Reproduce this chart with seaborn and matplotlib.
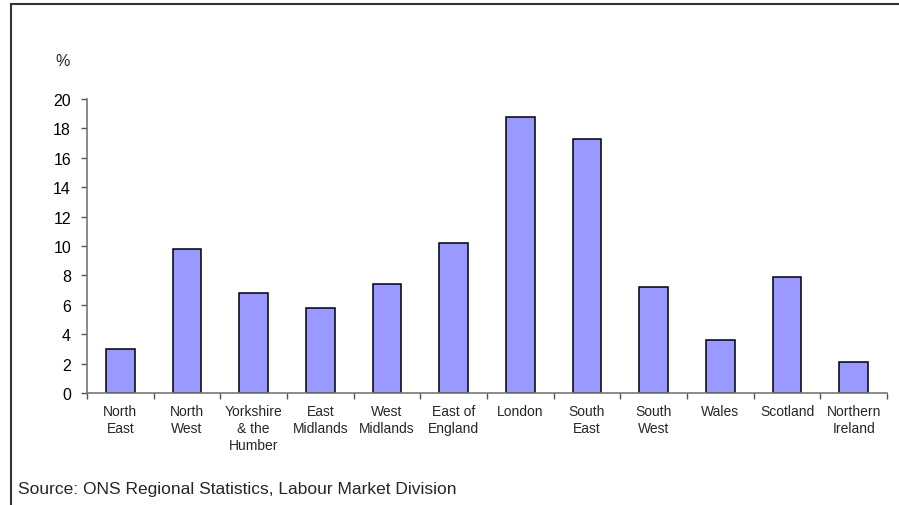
import matplotlib
matplotlib.use("Agg")
import matplotlib.pyplot as plt
from matplotlib.patches import Rectangle
from matplotlib.ticker import FixedLocator, NullFormatter
import seaborn as sns
import pandas as pd

regions = ["North\nEast", "North\nWest", "Yorkshire\n& the\nHumber", "East\nMidlands",
           "West\nMidlands", "East of\nEngland", "London", "South\nEast", "South\nWest",
           "Wales", "Scotland", "Northern\nIreland"]
share_pct = [3.0, 9.8, 6.8, 5.8, 7.4, 10.2, 18.8, 17.3, 7.2, 3.6, 7.9, 2.1]
y_ticks = [0, 2, 4, 6, 8, 10, 12, 14, 16, 18, 20]
source_note = "Source: ONS Regional Statistics, Labour Market Division"

sns.set_theme(style="white")
plt.rcParams["font.family"] = ["Liberation Sans", "DejaVu Sans"]

df = pd.DataFrame({"region": regions, "pct": share_pct})

fig = plt.figure(figsize=(8.99, 5.06), dpi=100)
W, H = 899, 506
ax = fig.add_axes([87 / W, 112 / H, 800 / W, 294 / H])

sns.barplot(data=df, x="region", y="pct", color="#9999FF", saturation=1,
            edgecolor="black", linewidth=1.1, width=0.43, ax=ax)

ax.set_xlim(-0.5, len(regions) - 0.5)
ax.set_ylim(0, 20)
ax.set_yticks(y_ticks)
ax.set_yticklabels([str(t) for t in y_ticks], fontsize=11.5, color="black")
ax.set_xlabel("")
ax.set_ylabel("")

# category labels sit between tick marks placed at the category boundaries
ax.tick_params(axis="x", which="major", length=0, pad=8)
ax.xaxis.set_minor_locator(FixedLocator([i - 0.5 for i in range(len(regions) + 1)]))
ax.xaxis.set_minor_formatter(NullFormatter())
ax.tick_params(axis="x", which="minor", length=4, width=1, color="#555555", direction="out", bottom=True)
ax.tick_params(axis="y", which="major", length=4, width=1, color="#555555", direction="out", left=True, pad=7.5)
for lbl in ax.get_xticklabels():
    lbl.set_fontsize(10)
    lbl.set_linespacing(1.25)
    lbl.set_verticalalignment("top")

for side in ("top", "right"):
    ax.spines[side].set_visible(False)
for side in ("left", "bottom"):
    ax.spines[side].set_color("#777777")
    ax.spines[side].set_linewidth(1.2)

fig.text(63 / W, 1 - 62 / H, "%", fontsize=11.5, ha="center", va="center")
fig.text(18 / W, 1 - 490 / H, source_note, fontsize=12.5, ha="left", va="center")

# outer chart frame
fig.patches.append(Rectangle((10.5 / W, -0.1), 1.2, 1.1 - 4.5 / H, transform=fig.transFigure,
                             fill=False, edgecolor="#333333", linewidth=1.5))

fig.savefig("out.png", dpi=100)
